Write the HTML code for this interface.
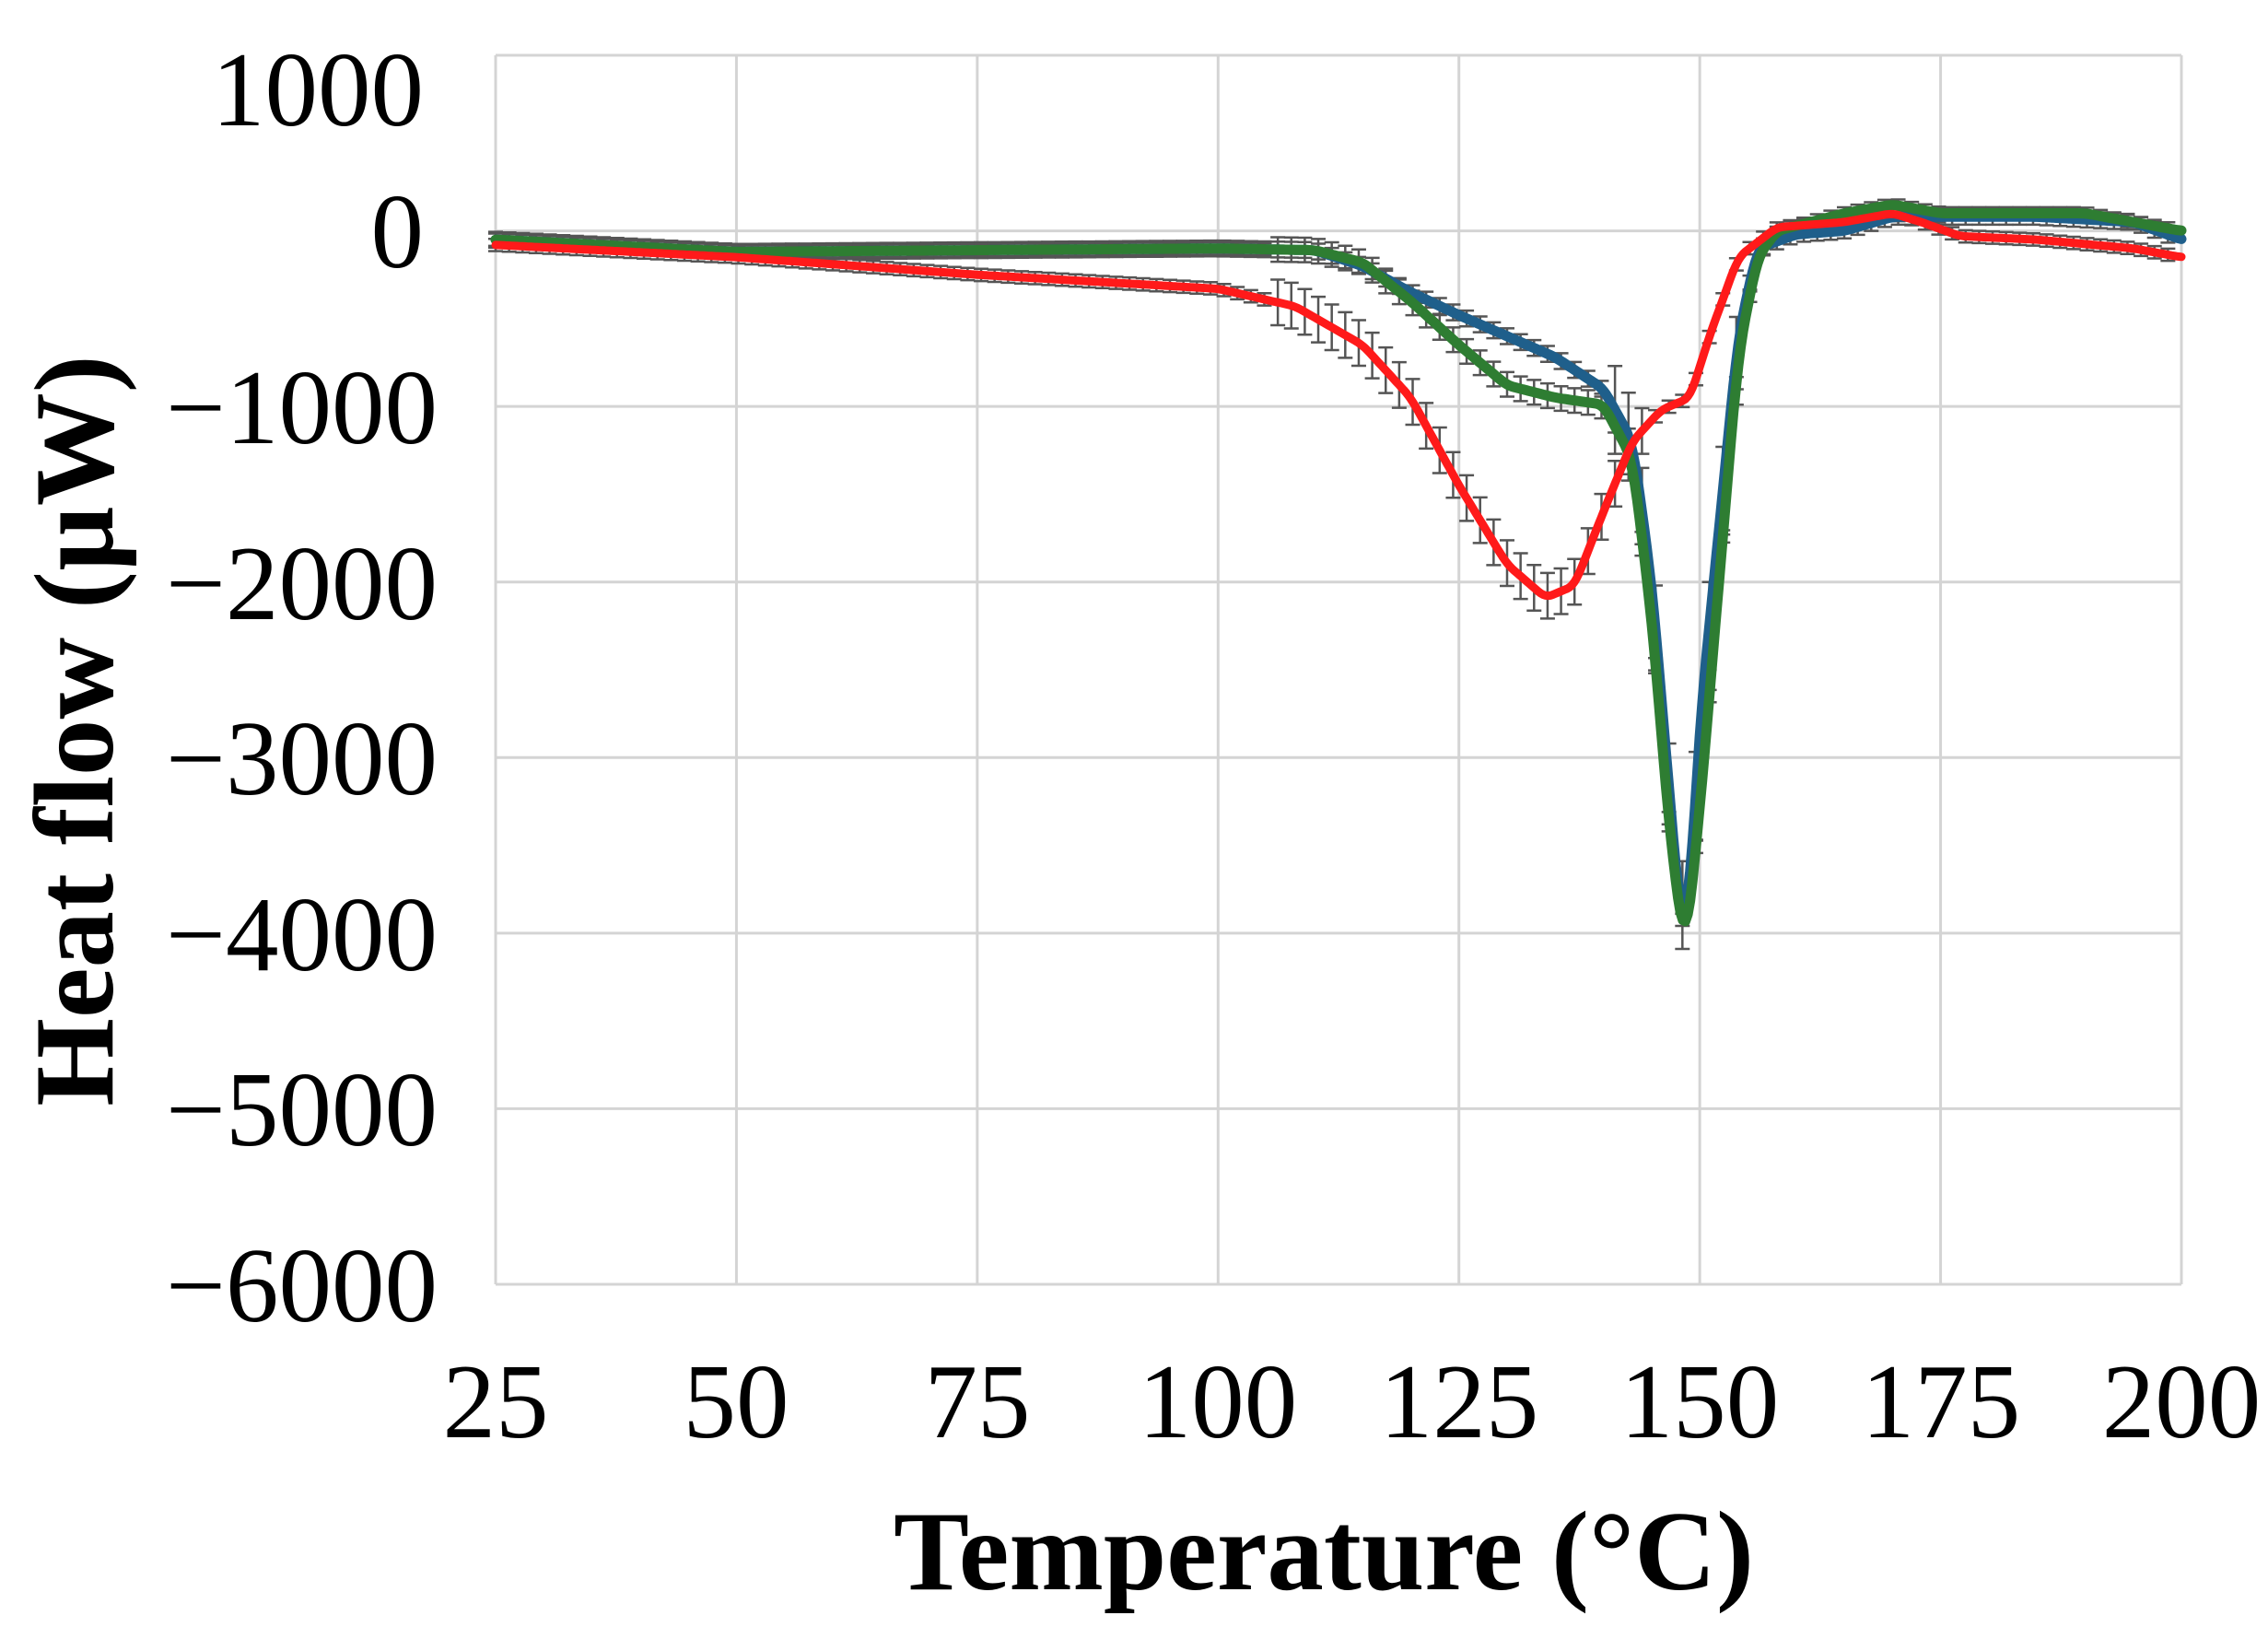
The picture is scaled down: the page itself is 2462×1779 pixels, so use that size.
<!DOCTYPE html>
<html><head><meta charset="utf-8"><style>
html,body{margin:0;padding:0;background:#fff;}
svg{display:block;}
</style></head><body>
<svg id="c" width="2462" height="1779" xmlns="http://www.w3.org/2000/svg">
<g id="grid" stroke="#d4d4d4" stroke-width="3"></g>
<g id="err" stroke="#555" stroke-width="2.5" fill="none"></g>
<g id="lines" fill="none" stroke-linejoin="round" stroke-linecap="round"></g>
<g font-family="Liberation Serif, serif" font-size="115" fill="#000">
<text x="460" y="136" text-anchor="end">1000</text>
<text x="460" y="290" text-anchor="end">0</text>
<text x="475" y="481" text-anchor="end">−1000</text>
<text x="475" y="672" text-anchor="end">−2000</text>
<text x="475" y="862" text-anchor="end">−3000</text>
<text x="475" y="1053" text-anchor="end">−4000</text>
<text x="475" y="1243" text-anchor="end">−5000</text>
<text x="475" y="1434" text-anchor="end">−6000</text>
<g text-anchor="middle">
<text x="538" y="1560">25</text><text x="799" y="1560">50</text><text x="1061" y="1560">75</text>
<text x="1322" y="1560">100</text><text x="1584" y="1560">125</text><text x="1845" y="1560">150</text>
<text x="2107" y="1560">175</text><text x="2368" y="1560">200</text>
</g>
<text x="1437" y="1725" text-anchor="middle" font-weight="bold" font-size="123">Temperature (°C)</text>
<text transform="translate(122,793) rotate(-90)" text-anchor="middle" font-weight="bold" font-size="123">Heat flow (µW)</text>
</g>
</svg>
<script>
const L=538,R=2368,T=60,B=1394;
const X=t=>L+(t-25)/175*(R-L), Y=q=>T+(1000-q)/7000*(B-T);
const ns="http://www.w3.org/2000/svg";
function el(p,n,a){const e=document.createElementNS(ns,n);for(const k in a)e.setAttribute(k,a[k]);p.appendChild(e);return e;}
const g=document.getElementById('grid');
for(let q=1000;q>=-6000;q-=1000)el(g,'line',{x1:L,x2:R,y1:Y(q),y2:Y(q)});
for(let t=25;t<=200;t+=25)el(g,'line',{x1:X(t),x2:X(t),y1:T,y2:B});
const red=[[25,-80],[50,-150],[75,-250],[100,-330],[108,-430],[115,-650],[120,-950],[125,-1450],[130,-1900],[134,-2090],[137,-2020],[140,-1600],[143,-1200],[146,-1020],[149,-950],[151,-600],[154,-150],[158,20],[165,50],[170,100],[173,50],[177,-30],[185,-50],[195,-100],[200,-150]];
const blue=[[25,-50],[50,-120],[75,-110],[100,-100],[110,-110],[115,-200],[120,-350],[125,-480],[130,-600],[135,-720],[140,-900],[143,-1200],[145,-2000],[147,-3300],[148,-3950],[149,-3800],[150,-2800],[152,-1700],[154,-600],[156,-100],[160,-20],[165,0],[170,80],[175,80],[185,80],[195,50],[200,-50]];
const green=[[25,-50],[50,-120],[75,-110],[100,-100],[110,-110],[115,-180],[120,-400],[125,-650],[130,-880],[135,-950],[140,-990],[143,-1300],[145,-2200],[147,-3500],[148.5,-4100],[150,-3300],[152,-2000],[154,-700],[156,-150],[158,0],[165,100],[170,150],[175,100],[185,100],[190,100],[200,0]];
function lin(d,t){for(let i=0;i<d.length-1;i++){if(t>=d[i][0]&&t<=d[i+1][0]){const f=(t-d[i][0])/(d[i+1][0]-d[i][0]);return d[i][1]+f*(d[i+1][1]-d[i][1]);}}return d[d.length-1][1];}
function interp(d,t){let s=0,n=0;for(let k=-2;k<=2;k++){s+=lin(d,Math.min(200,Math.max(25,t+k*0.3)));n++;}return s/n;}
const eg=document.getElementById('err');
function bars(d,mag){for(let t=25;t<=200;t+=1.4){const q=interp(d,t);const e=mag(t,q);const x=X(t);
el(eg,'line',{x1:x,x2:x,y1:Y(q+e),y2:Y(q-e)});el(eg,'line',{x1:x-8,x2:x+8,y1:Y(q+e),y2:Y(q+e)});el(eg,'line',{x1:x-8,x2:x+8,y1:Y(q-e),y2:Y(q-e)});}}
bars(red,(t,q)=>t>105&&t<145?130:35);
bars(blue,(t,q)=>t>140&&t<155?250:45);
bars(green,(t,q)=>t>105&&t<140?70:35);
const lg=document.getElementById('lines');
function path(d){let s='';for(let t=25;t<=200;t+=0.25){s+=(s?'L':'M')+X(t).toFixed(1)+','+Y(interp(d,t)).toFixed(1);}return s;}
el(lg,'path',{d:path(blue),stroke:'#1f5f8b','stroke-width':11});
el(lg,'path',{d:path(green),stroke:'#2e7d32','stroke-width':11});
el(lg,'path',{d:path(red),stroke:'#ff1a1a','stroke-width':9});
</script>
</body></html>
